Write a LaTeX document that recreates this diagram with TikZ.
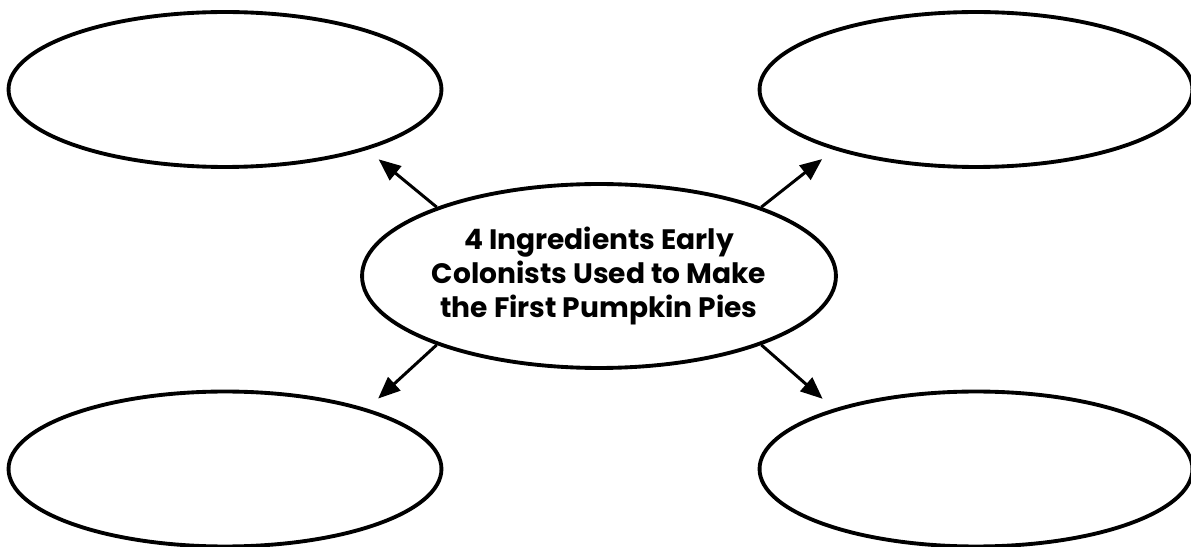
\documentclass[tikz,border=0pt]{standalone}
\usepackage{fontspec}
\setmainfont{Poppins}
\usepackage{tikz}
\usetikzlibrary{arrows.meta, positioning, shapes.geometric}

\begin{document}
\begin{tikzpicture}[x=0.02cm, y=-0.02cm,
      bubble/.style={ellipse, draw=black, line width=2.2pt, fill=white, inner sep=0pt,
        minimum width=8.66cm, minimum height=3.1cm},
      hub/.style={ellipse, draw=black, line width=2.2pt, fill=white, inner sep=0pt,
        minimum width=9.48cm, minimum height=3.68cm, align=center,
        font=\bfseries\fontsize{16}{19.2}\selectfont},
      arrow/.style={-{Triangle[length=0.44cm, width=0.36cm]}, line width=1.7pt, shorten >=0.3cm}
    ]

      % Page frame
      \useasboundingbox (0,0) rectangle (1191,547);

      % Central topic
      \node[hub] (topic) at (599,276) {4 Ingredients Early\\Colonists Used to Make\\the First Pumpkin Pies};

      % Four empty answer bubbles
      \node[bubble] (ingr_tl) at (225,89.5) {};
      \node[bubble] (ingr_tr) at (976,89.5) {};
      \node[bubble] (ingr_bl) at (225,469) {};
      \node[bubble] (ingr_br) at (976,469) {};

      % Arrows - topic out to each bubble
      \draw[arrow] (topic.157) -- (ingr_tl.-23);
      \draw[arrow] (topic.23) -- (ingr_tr.-157);
      \draw[arrow] (topic.-157) -- (ingr_bl.23);
      \draw[arrow] (topic.-23) -- (ingr_br.157);

    \end{tikzpicture}
\end{document}
